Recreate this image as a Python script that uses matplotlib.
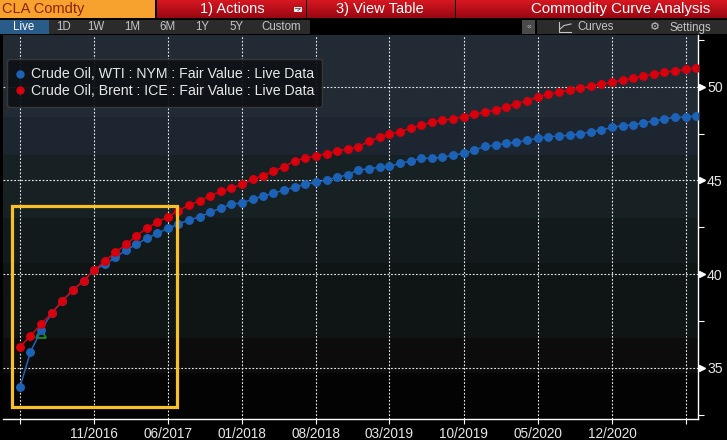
import matplotlib
matplotlib.use('Agg')
import matplotlib.pyplot as plt
import matplotlib.dates as mdates
import matplotlib.transforms as mtransforms
from matplotlib.lines import Line2D
from matplotlib.patches import Rectangle
import numpy as np
import pandas as pd

# monthly contracts on the curve
months = pd.date_range('2016-04-01', periods=65, freq='MS')

wti = [33.97, 35.84, 37.00, 37.90, 38.56, 39.15, 39.64, 40.21, 40.52, 40.89,
       41.28, 41.58, 41.90, 42.17, 42.44, 42.67, 42.88, 43.06, 43.29, 43.53,
       43.72, 43.81, 43.99, 44.16, 44.31, 44.48, 44.63, 44.79, 44.90, 45.02,
       45.16, 45.30, 45.55, 45.61, 45.70, 45.75, 45.91, 46.03, 46.18, 46.18,
       46.23, 46.34, 46.44, 46.60, 46.82, 46.87, 46.98, 47.03, 47.14, 47.24,
       47.33, 47.37, 47.40, 47.48, 47.58, 47.69, 47.83, 47.92, 47.96, 48.08,
       48.17, 48.28, 48.37, 48.37, 48.44]

brent = [36.10, 36.70, 37.33, 37.90, 38.56, 39.15, 39.64, 40.21, 40.69, 41.16,
         41.58, 42.03, 42.44, 42.76, 43.06, 43.38, 43.68, 43.91, 44.18, 44.41,
         44.57, 44.79, 45.05, 45.25, 45.48, 45.73, 46.03, 46.19, 46.30, 46.42,
         46.57, 46.66, 46.80, 47.08, 47.30, 47.46, 47.60, 47.78, 47.94, 48.10,
         48.21, 48.29, 48.40, 48.53, 48.63, 48.77, 48.93, 49.09, 49.25, 49.45,
         49.59, 49.72, 49.82, 49.91, 50.04, 50.14, 50.23, 50.36, 50.45, 50.57,
         50.66, 50.77, 50.84, 50.93, 51.01]

# green marker sitting under the third WTI point
last_idx = 2
last_px = 36.85

tick_dates = pd.date_range('2016-04-01', periods=10, freq='7MS')
tick_labels = ['', '11/2016', '06/2017', '01/2018', '08/2018', '03/2019',
               '10/2019', '05/2020', '12/2020', '']

ymajor = [35, 40, 45, 50]
yminor = [32.5, 37.5, 42.5, 47.5, 52.5]

# background bands (value bounds, colour)
band_edges = [32.0, 34.7, 36.6, 40.6, 43.0, 46.35, 48.4, 53.0]
band_colors = ['#030303', '#0c0c0c', '#0f1414', '#131a1b', '#172123',
               '#1d2530', '#222a34']

series_names = ['Crude Oil, WTI : NYM : Fair Value : Live Data',
                'Crude Oil, Brent : ICE : Fair Value : Live Data']
blue = '#1c63b8'
red = '#d8000c'

plt.rcParams['font.family'] = ['Liberation Sans', 'DejaVu Sans']

W, H = 727, 440
fig = plt.figure(figsize=(W / 100, H / 100), dpi=100, facecolor='black')

left, right, top, bottom = 3, 698, 35, 419
ax = fig.add_axes([left / W, (H - bottom) / H, (right - left) / W, (bottom - top) / H])
ax.set_facecolor('black')

for i in range(len(band_colors)):
    ax.axhspan(band_edges[i], band_edges[i + 1], color=band_colors[i], lw=0, zorder=0)

for d in tick_dates:
    ax.axvline(d, color='#e8e8e8', lw=0.8, ls=(0, (1.6, 1.6)), zorder=1)
for v in ymajor:
    ax.axhline(v, color='#e8e8e8', lw=0.8, ls=(0, (1.6, 1.6)), zorder=1)

ax.plot(months[last_idx], last_px, marker='^', ms=7, mfc='none', mec='#1c8c1c',
        mew=1.3, ls='none', zorder=2)
ax.plot(months, wti, color=blue, lw=1.1, marker='o', ms=5.4, mec=blue, mfc=blue, zorder=3)
ax.plot(months, brent, color=red, lw=1.1, marker='o', ms=5.4, mec=red, mfc=red, zorder=4)

# highlight box
ax.add_patch(Rectangle((0.0125, 0.0305), 0.2375, 0.525, transform=ax.transAxes,
                       fill=False, ec='#f7bf2a', lw=2.3, zorder=6))

x0 = mdates.date2num(months[0]) - 49
x1 = mdates.date2num(months[-1]) + 5
ax.set_xlim(x0, x1)
ax.set_ylim(32.26, 52.76)

ax.set_xticks(tick_dates)
ax.set_xticklabels(tick_labels, color='#e6e6e6', fontsize=9.8)
ax.tick_params(axis='x', length=3.5, width=0.8, color='white', pad=2)

ax.yaxis.tick_right()
ax.set_yticks(ymajor)
ax.set_yticklabels([str(v) for v in ymajor], color='#e6e6e6', fontsize=10.2)
ax.set_yticks(yminor, minor=True)
ax.tick_params(axis='y', which='major', length=0, pad=6.5)
ax.tick_params(axis='y', which='minor', length=4, width=0.8, color='white')
tri = ax.get_yaxis_transform() + mtransforms.ScaledTranslation(3.6 / 100, 0, fig.dpi_scale_trans)
ax.plot([1] * len(ymajor), ymajor, marker='>', ms=5, color='white', ls='none',
        transform=tri, clip_on=False, zorder=7)

for s in ['left', 'top']:
    ax.spines[s].set_visible(False)
for s in ['right', 'bottom']:
    ax.spines[s].set_color('white')
    ax.spines[s].set_linewidth(1)

handles = [Line2D([], [], marker='o', ls='none', ms=5, color=c) for c in (blue, red)]
leg = ax.legend(handles, series_names, loc='upper left', bbox_to_anchor=(0.006, 0.9375),
                frameon=True, facecolor='#0e1216', edgecolor='#3a3a3a', framealpha=0.92,
                fontsize=10.2, handlelength=0.6, handletextpad=0.45, borderpad=0.6,
                labelspacing=0.2, borderaxespad=0)
for t in leg.get_texts():
    t.set_color('#e8e8e8')
leg.set_zorder(8)

# header bars, drawn in pixel space
hdr = fig.add_axes([0, 0, 1, 1], zorder=5)
hdr.set_xlim(0, W)
hdr.set_ylim(H, 0)
hdr.axis('off')
hdr.patch.set_alpha(0)

hdr.add_patch(Rectangle((0, 0), 155, 18, color='#f7a12e', lw=0))
hdr.text(2, 9.5, 'CLA Comdty', color='#8c2408', fontsize=10.5, va='center', ha='left')

grad = np.linspace(0, 1, 20)[:, None]
red_top = np.array([0.84, 0.09, 0.13])
red_bot = np.array([0.60, 0.03, 0.07])
img = red_top[None, None, :] * (1 - grad[..., None]) + red_bot[None, None, :] * grad[..., None]
img = np.repeat(img, 2, axis=1)
for a, b in [(157, 306), (307, 455), (456, W)]:
    hdr.imshow(img, extent=(a, b, 18, 0), aspect='auto', zorder=1)
hdr.text(232, 9.5, '1) Actions', color='white', fontsize=10.5, va='center', ha='center', zorder=2)
hdr.add_patch(Rectangle((294, 7), 8, 5, color='#e8e8e8', lw=0, zorder=2))
hdr.plot([295.5, 300.5, 298], [8.5, 8.5, 10.5], color='#555555', lw=0.6, zorder=3)
hdr.text(380, 9.5, '3) View Table', color='white', fontsize=10.5, va='center', ha='center', zorder=2)
hdr.text(710, 9.5, 'Commodity Curve Analysis', color='white', fontsize=10.8,
         va='center', ha='right', zorder=2)

hdr.add_patch(Rectangle((0, 20), 49, 14, color='#2a5c8a', lw=0))
hdr.add_patch(Rectangle((49, 20), 261, 14, color='#2b2b2b', lw=0))
hdr.text(24, 27.5, 'Live', color='white', fontsize=8.3, va='center', ha='center')
for lbl, cx in [('1D', 64), ('1W', 96), ('1M', 132), ('6M', 167), ('1Y', 202),
                ('5Y', 237), ('Custom', 281)]:
    hdr.text(cx, 27.5, lbl, color='#c4c4c4', fontsize=8.3, va='center', ha='center')

hdr.add_patch(Rectangle((522, 20), 13, 14, color='#4a4a4a', lw=0))
hdr.text(528.5, 27.5, '«', color='#bbbbbb', fontsize=6, va='center', ha='center')
hdr.add_patch(Rectangle((537, 20), 190, 14, color='#2b2b2b', lw=0))
hdr.plot([559, 559, 571], [22, 32, 32], color='#c4c4c4', lw=0.8)
hdr.plot([560, 564, 571], [29, 25.5, 24], color='#c4c4c4', lw=0.8)
hdr.text(596, 27.5, 'Curves', color='#c4c4c4', fontsize=8.3, va='center', ha='center')
hdr.text(655, 27.5, '\u2699', color='#c4c4c4', fontsize=8, va='center', ha='center',
         family=['DejaVu Sans'])
hdr.text(690, 27.5, 'Settings', color='#c4c4c4', fontsize=8.3, va='center', ha='center')

fig.savefig('out.png', dpi=100, facecolor='black')
